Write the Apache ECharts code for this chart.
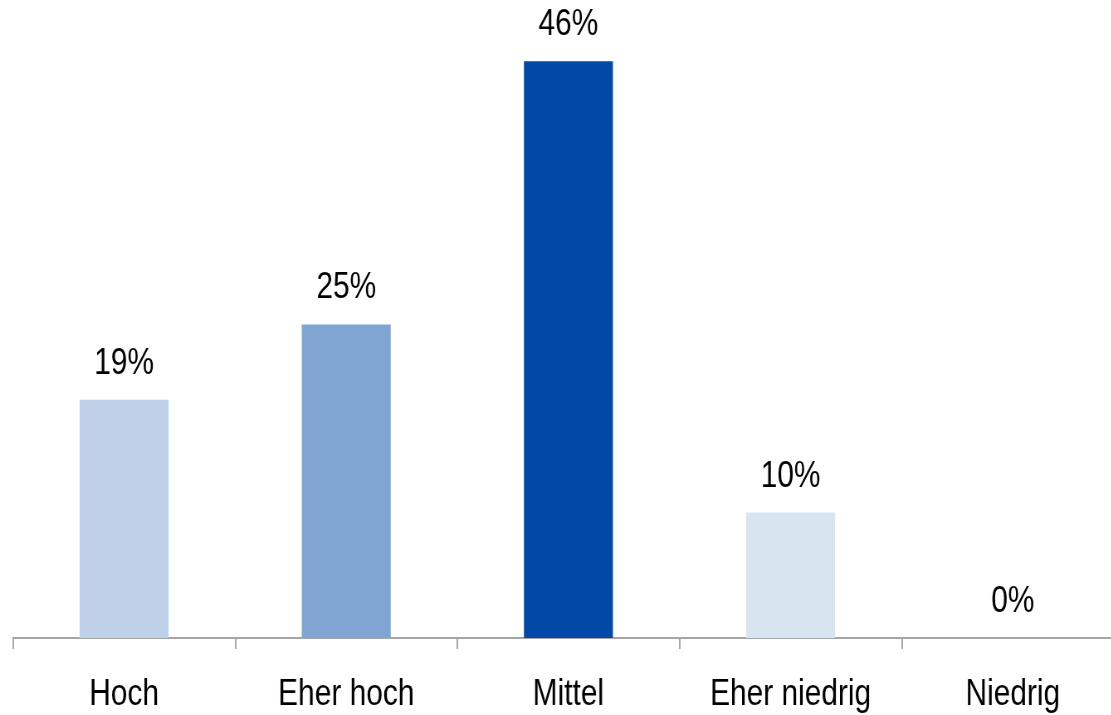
<!DOCTYPE html>
<html><head><meta charset="utf-8">
<script src="https://cdn.jsdelivr.net/npm/echarts@6/dist/echarts.min.js"></script>
<style>html,body{margin:0;padding:0;background:#fff;overflow:hidden}
#wrap{width:1111px;height:715px;overflow:hidden;position:relative}
#c{width:1354px;height:715px;transform:scaleX(0.83);transform-origin:0 0;position:absolute;left:0;top:0}</style>
</head><body><div id="wrap"><div id="c"></div></div>
<script>
const categories = ['Hoch', 'Eher hoch', 'Mittel', 'Eher niedrig', 'Niedrig'];
const values = [19, 25, 46, 10, 0];
const colors = ['#BFD1E9', '#81A5D2', '#0049A6', '#D8E4F0', '#D8E4F0'];
const FONT = '"Liberation Sans", Arial, sans-serif';
const SX = 0.83;
const chart = echarts.init(document.getElementById('c'), null, {renderer: 'canvas', width: 1354, height: 715});
chart.setOption({
  animation: false,
  grid: {left: 13 / SX, right: 0, top: 11, bottom: 77, containLabel: false},
  xAxis: {
    type: 'category', data: categories,
    axisLine: {lineStyle: {color: '#A6A6A6', width: 2}},
    axisTick: {show: true, length: 11, lineStyle: {color: '#A6A6A6', width: 2}},
    axisLabel: {color: '#000', fontFamily: FONT, fontSize: 36, margin: 39, interval: 0}
  },
  yAxis: {type: 'value', min: 0, max: 50, show: false, splitLine: {show: false}},
  series: [{
    type: 'bar', barWidth: 89 / SX,
    data: values.map((v, i) => ({value: v, itemStyle: {color: colors[i]}})),
    label: {show: true, position: 'top', distance: 18, formatter: '{c}%', color: '#000', fontFamily: FONT, fontSize: 36}
  }]
});
</script></body></html>
